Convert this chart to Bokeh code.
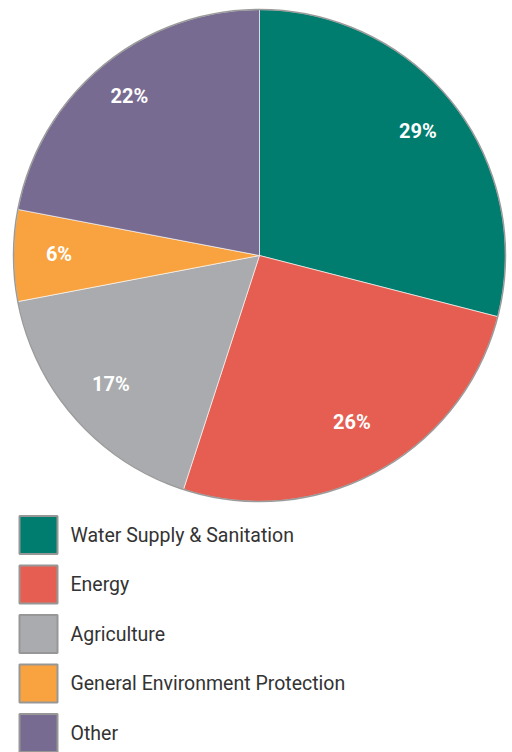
import math
from bokeh.plotting import figure
from bokeh.models import Range1d, ColumnDataSource
from bokeh.core.properties import value
from bokeh.embed import file_html
from bokeh.resources import INLINE

categories = ["Water Supply & Sanitation", "Energy", "Agriculture",
              "General Environment Protection", "Other"]
shares = [29, 26, 17, 6, 22]
labels = ["29%", "26%", "17%", "6%", "22%"]
colors = ["#007D6E", "#E65E51", "#A9ABAE", "#F8A33F", "#786B91"]
# radial placement of each percentage label, as a fraction of the radius
label_radius = [0.815, 0.78, 0.805, 0.815, 0.83]

FONT = "Roboto"

p = figure(width=512, height=752, output_backend="svg", toolbar_location=None,
           x_range=Range1d(0, 512), y_range=Range1d(-752, 0),
           min_border=0)
p.axis.visible = False
p.grid.visible = False
p.outline_line_color = None
p.background_fill_color = "white"

cx, cy, R = 259, -255, 246
total = sum(shares)
starts, ends, lx, ly = [], [], [], []
cum = 0.0
for s, fr in zip(shares, label_radius):
    a0 = math.pi / 2 - 2 * math.pi * cum / total
    cum += s
    a1 = math.pi / 2 - 2 * math.pi * cum / total
    starts.append(a1)
    ends.append(a0)
    mid = (a0 + a1) / 2
    lx.append(cx + fr * R * math.cos(mid))
    ly.append(cy + fr * R * math.sin(mid) + 2)

src = ColumnDataSource(dict(start=starts, end=ends, color=colors,
                            lx=lx, ly=ly, label=labels))
p.wedge(x=cx, y=cy, radius=R, start_angle="start", end_angle="end",
        direction="anticlock", fill_color="color", line_color="white",
        line_width=0.6, source=src)
p.scatter(x=[cx], y=[cy], size=2 * R, marker="circle", fill_color=None,
          line_color="#9b9b9b", line_width=1.5)
p.text(x="lx", y="ly", text="label", source=src, text_color="white",
       text_font=value(FONT), text_font_style="bold", text_font_size="20px",
       text_align="center", text_baseline="middle")

# legend
n = len(categories)
leg_y = [-(534.5 + 49.5 * i) for i in range(n)]
leg = ColumnDataSource(dict(x=[38] * n, y=leg_y, color=colors,
                            tx=[70] * n, name=categories))
p.rect(x="x", y="y", width=38, height=38, fill_color="color",
       line_color="#979797", line_width=2, source=leg)
p.text(x="tx", y="y", text="name", source=leg, text_color="#333333",
       text_font=value(FONT), text_font_size="19.5px",
       text_align="left", text_baseline="middle")

open("out.html", "w").write(file_html(p, INLINE))
